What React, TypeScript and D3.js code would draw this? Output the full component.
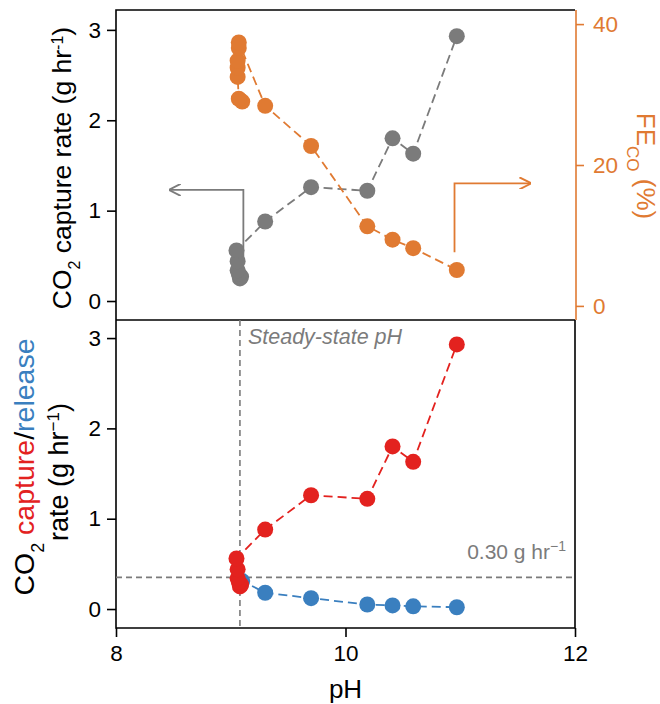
import React, { useRef, useEffect } from 'react';
import * as d3 from 'd3';

// capture rate (top gray, bottom red)
const capturePH = [9.08, 9.09, 9.07, 9.06, 9.06, 9.05, 9.3, 9.7, 10.19, 10.41, 10.59, 10.97];
const captureRate = [0.25, 0.27, 0.3, 0.34, 0.44, 0.56, 0.88, 1.26, 1.22, 1.8, 1.63, 2.93];

// Faradaic efficiency CO (%)
const fePH = [9.1, 9.07, 9.06, 9.06, 9.06, 9.07, 9.07, 9.3, 9.7, 10.19, 10.41, 10.59, 10.97];
const feValue = [29.0, 29.4, 32.5, 33.8, 34.8, 36.6, 37.4, 28.4, 22.7, 11.3, 9.4, 8.2, 5.1];

// release rate (bottom blue)
const releasePH = [9.09, 9.1, 9.3, 9.7, 10.19, 10.41, 10.59, 10.97];
const releaseRate = [0.28, 0.31, 0.18, 0.12, 0.05, 0.04, 0.03, 0.02];

const phTicks = [8, 10, 12];
const rateTicks = [0, 1, 2, 3];
const feTicks = [0, 20, 40];
const steadyPH = 9.08;
const threshold = 0.35;

const GRAY = '#7b7b7b';
const ORANGE = '#e07a32';
const RED = '#e3221f';
const BLUE = '#3a7fbf';
const FONT = '"Liberation Sans", Arial, sans-serif';

const App = () => {
  const svgRef = useRef<SVGSVGElement>(null);
  const width = 660;
  const height = 704;
  const left = 116, right = 575, top = 10, mid = 320, bottom = 628;

  useEffect(() => {
    document.body.style.margin = '0';
    const svg = d3.select(svgRef.current);
    svg.selectAll('*').remove();
    svg.attr('width', width).attr('height', height).style('font-family', FONT);

    const x = d3.scaleLinear().domain([8, 12]).range([left, right]);
    const yTop = d3.scaleLinear().domain([-0.21, 3.22]).range([mid, top]);
    const yFE = d3.scaleLinear().domain([-2, 42]).range([mid, top]);
    const yBot = d3.scaleLinear().domain([-0.21, 3.2]).range([bottom, mid]);

    const styleAxis = (g, color, size = 22.5) => {
      g.selectAll('path').attr('stroke', color).attr('stroke-width', 1.6);
      g.selectAll('line').attr('stroke', color).attr('stroke-width', 1.6);
      g.selectAll('text').attr('fill', color).attr('font-size', size).style('font-family', FONT);
    };

    // frames
    svg.append('path').attr('d', `M${right},${top}H${left}V${bottom}H${right}V${mid}`)
      .attr('fill', 'none').attr('stroke', '#000').attr('stroke-width', 1.6);
    svg.append('line').attr('x1', left).attr('x2', right).attr('y1', mid).attr('y2', mid)
      .attr('stroke', '#000').attr('stroke-width', 1.6);

    // axes
    svg.append('g').attr('transform', `translate(${left},0)`)
      .call(d3.axisLeft(yTop).tickValues(rateTicks).tickSize(9).tickPadding(6).tickFormat(d3.format('d')))
      .call(g => g.select('.domain').remove())
      .call(g => styleAxis(g, '#000'));
    svg.append('g').attr('transform', `translate(${left},0)`)
      .call(d3.axisLeft(yBot).tickValues(rateTicks).tickSize(9).tickPadding(6).tickFormat(d3.format('d')))
      .call(g => g.select('.domain').remove())
      .call(g => styleAxis(g, '#000'));
    svg.append('g').attr('transform', `translate(0,${bottom})`)
      .call(d3.axisBottom(x).tickValues(phTicks).tickSize(9).tickPadding(8).tickFormat(d3.format('d')))
      .call(g => g.select('.domain').remove())
      .call(g => styleAxis(g, '#000'));
    svg.append('g').attr('transform', `translate(${right + 1},0)`)
      .call(d3.axisRight(yFE).tickValues(feTicks).tickSize(8).tickPadding(9).tickFormat(d3.format('d')))
      .call(g => g.select('.domain').attr('d', `M0,${mid}V${top}`))
      .call(g => styleAxis(g, ORANGE));

    // axis titles
    const t1 = svg.append('text').attr('transform', `translate(71,168) rotate(-90)`)
      .attr('text-anchor', 'middle').attr('font-size', 26.5).attr('fill', '#000');
    t1.append('tspan').text('CO');
    t1.append('tspan').attr('baseline-shift', 'sub').attr('font-size', 16).text('2');
    t1.append('tspan').text(' capture rate (g hr');
    t1.append('tspan').attr('baseline-shift', 'super').attr('font-size', 16).text('-1');
    t1.append('tspan').text(')');

    const t2 = svg.append('text').attr('transform', `translate(34,467) rotate(-90)`)
      .attr('text-anchor', 'middle').attr('font-size', 28.5).attr('fill', '#000');
    t2.append('tspan').text('CO');
    t2.append('tspan').attr('baseline-shift', 'sub').attr('font-size', 18).text('2');
    t2.append('tspan').text(' ');
    t2.append('tspan').attr('fill', RED).text('capture');
    t2.append('tspan').text('/');
    t2.append('tspan').attr('fill', BLUE).text('release');

    const t3 = svg.append('text').attr('transform', `translate(68,472) rotate(-90)`)
      .attr('text-anchor', 'middle').attr('font-size', 27).attr('fill', '#000');
    t3.append('tspan').text('rate (g hr');
    t3.append('tspan').attr('baseline-shift', 'super').attr('font-size', 17).text('\u22121');
    t3.append('tspan').text(')');

    const t4 = svg.append('text').attr('transform', `translate(637,166) rotate(90)`)
      .attr('text-anchor', 'middle').attr('font-size', 26).attr('fill', ORANGE);
    t4.append('tspan').text('FE');
    t4.append('tspan').attr('baseline-shift', 'sub').attr('font-size', 17).text('CO');
    t4.append('tspan').text(' (%)');

    svg.append('text').attr('x', x(10)).attr('y', 698).attr('text-anchor', 'middle')
      .attr('font-size', 26).attr('fill', '#000').text('pH');

    // reference lines (bottom)
    svg.append('line').attr('x1', x(steadyPH)).attr('x2', x(steadyPH)).attr('y1', mid).attr('y2', bottom)
      .attr('stroke', GRAY).attr('stroke-width', 1.6).attr('stroke-dasharray', '6,4');
    svg.append('line').attr('x1', left).attr('x2', right).attr('y1', yBot(threshold)).attr('y2', yBot(threshold))
      .attr('stroke', GRAY).attr('stroke-width', 1.6).attr('stroke-dasharray', '6,4');
    svg.append('text').attr('x', x(steadyPH) + 8).attr('y', 344).attr('font-size', 21.5)
      .attr('font-style', 'italic').attr('fill', GRAY).text('Steady-state pH');
    const tl = svg.append('text').attr('x', right - 9).attr('y', 559).attr('text-anchor', 'end')
      .attr('font-size', 21).attr('fill', GRAY);
    tl.append('tspan').text('0.30 g hr');
    tl.append('tspan').attr('baseline-shift', 'super').attr('font-size', 14).text('\u22121');

    // arrows (top)
    const defs = svg.append('defs');
    [['ag', GRAY], ['ao', ORANGE]].forEach(([id, c]) => {
      defs.append('marker').attr('id', id).attr('viewBox', '0 0 10 10').attr('refX', 9).attr('refY', 5)
        .attr('markerWidth', 12).attr('markerHeight', 12).attr('markerUnits', 'userSpaceOnUse').attr('orient', 'auto')
        .append('path').attr('d', 'M0,0L10,5L0,10').attr('fill', 'none').attr('stroke', c).attr('stroke-width', 1.6);
    });
    svg.append('path')
      .attr('d', `M${x(9.11)},${yTop(0.48)}V${yTop(1.23)}H${x(8.47)}`)
      .attr('fill', 'none').attr('stroke', GRAY).attr('stroke-width', 1.8).attr('marker-end', 'url(#ag)');
    svg.append('path')
      .attr('d', `M${x(10.95)},${yFE(7.6)}V${yFE(17.4)}H${x(11.61)}`)
      .attr('fill', 'none').attr('stroke', ORANGE).attr('stroke-width', 1.8).attr('marker-end', 'url(#ao)');

    const series = (xs, ys, yScale, color) => {
      const pts = xs.map((v, i) => [v, ys[i]]);
      const line = d3.line().x(d => x(d[0])).y(d => yScale(d[1]));
      svg.append('path').datum(pts).attr('d', line).attr('fill', 'none')
        .attr('stroke', color).attr('stroke-width', 1.8).attr('stroke-dasharray', '9,5');
      svg.append('g').selectAll('circle').data(pts).join('circle')
        .attr('cx', d => x(d[0])).attr('cy', d => yScale(d[1])).attr('r', 8).attr('fill', color);
    };

    series(capturePH, captureRate, yTop, GRAY);
    series(fePH, feValue, yFE, ORANGE);
    series(releasePH, releaseRate, yBot, BLUE);
    series(capturePH, captureRate, yBot, RED);
  }, []);

  return <svg ref={svgRef} style={{ display: 'block' }}></svg>;
};

export default App;
